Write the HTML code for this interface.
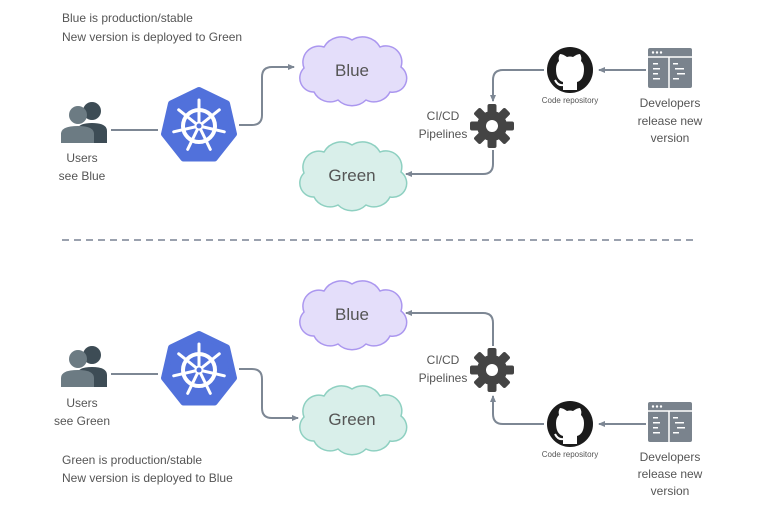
<!DOCTYPE html>
<html><head><meta charset="utf-8"><style>
html,body{margin:0;padding:0;background:#fff;}
svg{display:block;}
text{font-family:"Liberation Sans",sans-serif;fill:#555;}
</style></head><body>
<svg width="773" height="513" viewBox="0 0 773 513" xmlns="http://www.w3.org/2000/svg">
<defs>
<marker id="ar" markerWidth="8" markerHeight="8" refX="6" refY="4" orient="auto" markerUnits="userSpaceOnUse">
<path d="M0,1 L7,4 L0,7 Z" fill="#7d8794"/>
</marker>
<path id="cloud" d="M-38,22 A14,14 0 0 1 -48,-2 A16,16 0 0 1 -28,-23 A20,20 0 0 1 0,-30 A20,20 0 0 1 28,-23 A16,16 0 0 1 49,-3 A14,14 0 0 1 38,22 A18,18 0 0 1 14,30 A20,20 0 0 1 -14,30 A18,18 0 0 1 -38,22 Z"/>
<g id="k8s">
<polygon points="0,-36 28,-22.5 35,8 15.6,32.5 -15.6,32.5 -35,8 -28,-22.5" fill="#5171db" stroke="#5171db" stroke-width="6" stroke-linejoin="round"/>
<circle r="16" fill="none" stroke="#fff" stroke-width="4"/>
<circle r="4.5" fill="#fff"/>
<g stroke="#fff" stroke-width="3" stroke-linecap="round">
<line x1="0" y1="0" x2="0" y2="-26"/>
<line x1="0" y1="0" x2="20.3" y2="-16.2"/>
<line x1="0" y1="0" x2="25.3" y2="5.8"/>
<line x1="0" y1="0" x2="11.3" y2="23.4"/>
<line x1="0" y1="0" x2="-11.3" y2="23.4"/>
<line x1="0" y1="0" x2="-25.3" y2="5.8"/>
<line x1="0" y1="0" x2="-20.3" y2="-16.2"/>
</g>
<circle r="2.5" fill="#5171db"/>
</g>
<g id="users">
<circle cx="31" cy="-12" r="9" fill="#3d4c55"/>
<path d="M16,20 L16,8 Q16,0 31,0 Q46,0 46,8 L46,20 Z" fill="#3d4c55"/>
<circle cx="17" cy="-8" r="9" fill="#6c7b83"/>
<path d="M0,20 L0,11 Q0,3 17,3 Q33,3 33,11 L33,20 Z" fill="#6c7b83"/>
</g>
<g id="gear">
<g fill="#444">
<circle r="15"/>
<rect x="-4.5" y="-22" width="9" height="44" rx="2"/>
<rect x="-4.5" y="-22" width="9" height="44" rx="2" transform="rotate(45)"/>
<rect x="-4.5" y="-22" width="9" height="44" rx="2" transform="rotate(90)"/>
<rect x="-4.5" y="-22" width="9" height="44" rx="2" transform="rotate(135)"/>
</g>
<circle r="6" fill="#fff"/>
</g>
<g id="gh">
<circle r="23" fill="#1b1b1b"/>
<path d="M-7,20 L-7,12 Q-14,10 -14,-1 Q-14,-6 -11,-9 Q-12,-13 -10,-16 Q-7,-16 -3,-13 Q0,-14 3,-13 Q7,-16 10,-16 Q12,-13 11,-9 Q14,-6 14,-1 Q14,10 7,12 L7,20 Z" fill="#fff"/>
<path d="M-7,15 Q-12,16 -15,10" stroke="#fff" stroke-width="2" fill="none"/>
</g>
<g id="dev">
<rect x="0" y="0" width="44" height="40" rx="2" fill="#7a838d"/>
<line x1="21" y1="9" x2="21" y2="40" stroke="#fff" stroke-width="1.5"/>
<line x1="0" y1="9" x2="44" y2="9" stroke="#fff" stroke-width="1.5"/>
<g fill="#fff"><circle cx="5" cy="4.5" r="1.2"/><circle cx="9" cy="4.5" r="1.2"/><circle cx="13" cy="4.5" r="1.2"/>
<rect x="5" y="15" width="5" height="1.5"/><rect x="5" y="20" width="7" height="1.5"/><rect x="5" y="25" width="5" height="1.5"/><rect x="5" y="30" width="7" height="1.5"/>
<rect x="25" y="15" width="5" height="1.5"/><rect x="27" y="20" width="9" height="1.5"/><rect x="29" y="25" width="8" height="1.5"/><rect x="25" y="30" width="6" height="1.5"/></g>
</g>
</defs>

<!-- TOP -->
<text x="62" y="22" font-size="12">Blue is production/stable</text>
<text x="62" y="41" font-size="12">New version is deployed to Green</text>
<use href="#users" x="61" y="123"/>
<text x="82" y="162" font-size="12" text-anchor="middle">Users</text>
<text x="82" y="180" font-size="12" text-anchor="middle">see Blue</text>
<line x1="111" y1="130" x2="158" y2="130" stroke="#7d8794" stroke-width="2"/>
<use href="#k8s" x="199" y="126"/>
<path d="M239,125 L252,125 Q262,125 262,115 L262,77 Q262,67 272,67 L294,67" fill="none" stroke="#7d8794" stroke-width="2" marker-end="url(#ar)"/>
<use href="#cloud" x="352" y="70" fill="#e4defa" stroke="#ab97ef" stroke-width="1.5"/>
<text x="352" y="76" font-size="17" text-anchor="middle" fill="#333">Blue</text>
<use href="#cloud" x="352" y="175" fill="#d9efea" stroke="#8ed0c1" stroke-width="1.5"/>
<text x="352" y="181" font-size="17" text-anchor="middle" fill="#333">Green</text>
<use href="#gh" x="570" y="70"/>
<text x="570" y="103" font-size="8" text-anchor="middle">Code repository</text>
<use href="#dev" x="648" y="48"/>
<text x="670" y="107" font-size="12" text-anchor="middle">Developers</text>
<text x="670" y="125" font-size="12" text-anchor="middle">release new</text>
<text x="670" y="142" font-size="12" text-anchor="middle">version</text>
<line x1="646" y1="70" x2="599" y2="70" stroke="#7d8794" stroke-width="2" marker-end="url(#ar)"/>
<path d="M544,70 L503,70 Q493,70 493,80 L493,101" fill="none" stroke="#7d8794" stroke-width="2" marker-end="url(#ar)"/>
<use href="#gear" x="492" y="126"/>
<text x="443" y="120" font-size="12" text-anchor="middle">CI/CD</text>
<text x="443" y="138" font-size="12" text-anchor="middle">Pipelines</text>
<path d="M493,150 L493,164 Q493,174 483,174 L406,174" fill="none" stroke="#7d8794" stroke-width="2" marker-end="url(#ar)"/>

<line x1="62" y1="240" x2="694" y2="240" stroke="#9aa1ae" stroke-width="2" stroke-dasharray="7,5"/>

<!-- BOTTOM -->
<use href="#users" x="61" y="367"/>
<text x="82" y="407" font-size="12" text-anchor="middle">Users</text>
<text x="82" y="425" font-size="12" text-anchor="middle">see Green</text>
<line x1="111" y1="374" x2="158" y2="374" stroke="#7d8794" stroke-width="2"/>
<use href="#k8s" x="199" y="370"/>
<path d="M239,369 L252,369 Q262,369 262,379 L262,408 Q262,418 272,418 L298,418" fill="none" stroke="#7d8794" stroke-width="2" marker-end="url(#ar)"/>
<use href="#cloud" x="352" y="314" fill="#e4defa" stroke="#ab97ef" stroke-width="1.5"/>
<text x="352" y="320" font-size="17" text-anchor="middle" fill="#333">Blue</text>
<use href="#cloud" x="352" y="419" fill="#d9efea" stroke="#8ed0c1" stroke-width="1.5"/>
<text x="352" y="425" font-size="17" text-anchor="middle" fill="#333">Green</text>
<use href="#gear" x="492" y="370"/>
<text x="443" y="364" font-size="12" text-anchor="middle">CI/CD</text>
<text x="443" y="382" font-size="12" text-anchor="middle">Pipelines</text>
<path d="M493,346 L493,323 Q493,313 483,313 L406,313" fill="none" stroke="#7d8794" stroke-width="2" marker-end="url(#ar)"/>
<use href="#gh" x="570" y="424"/>
<text x="570" y="457" font-size="8" text-anchor="middle">Code repository</text>
<path d="M544,424 L503,424 Q493,424 493,414 L493,396" fill="none" stroke="#7d8794" stroke-width="2" marker-end="url(#ar)"/>
<use href="#dev" x="648" y="402"/>
<text x="670" y="461" font-size="12" text-anchor="middle">Developers</text>
<text x="670" y="478" font-size="12" text-anchor="middle">release new</text>
<text x="670" y="495" font-size="12" text-anchor="middle">version</text>
<line x1="646" y1="424" x2="599" y2="424" stroke="#7d8794" stroke-width="2" marker-end="url(#ar)"/>
<text x="62" y="464" font-size="12">Green is production/stable</text>
<text x="62" y="482" font-size="12">New version is deployed to Blue</text>
</svg>
</body></html>
